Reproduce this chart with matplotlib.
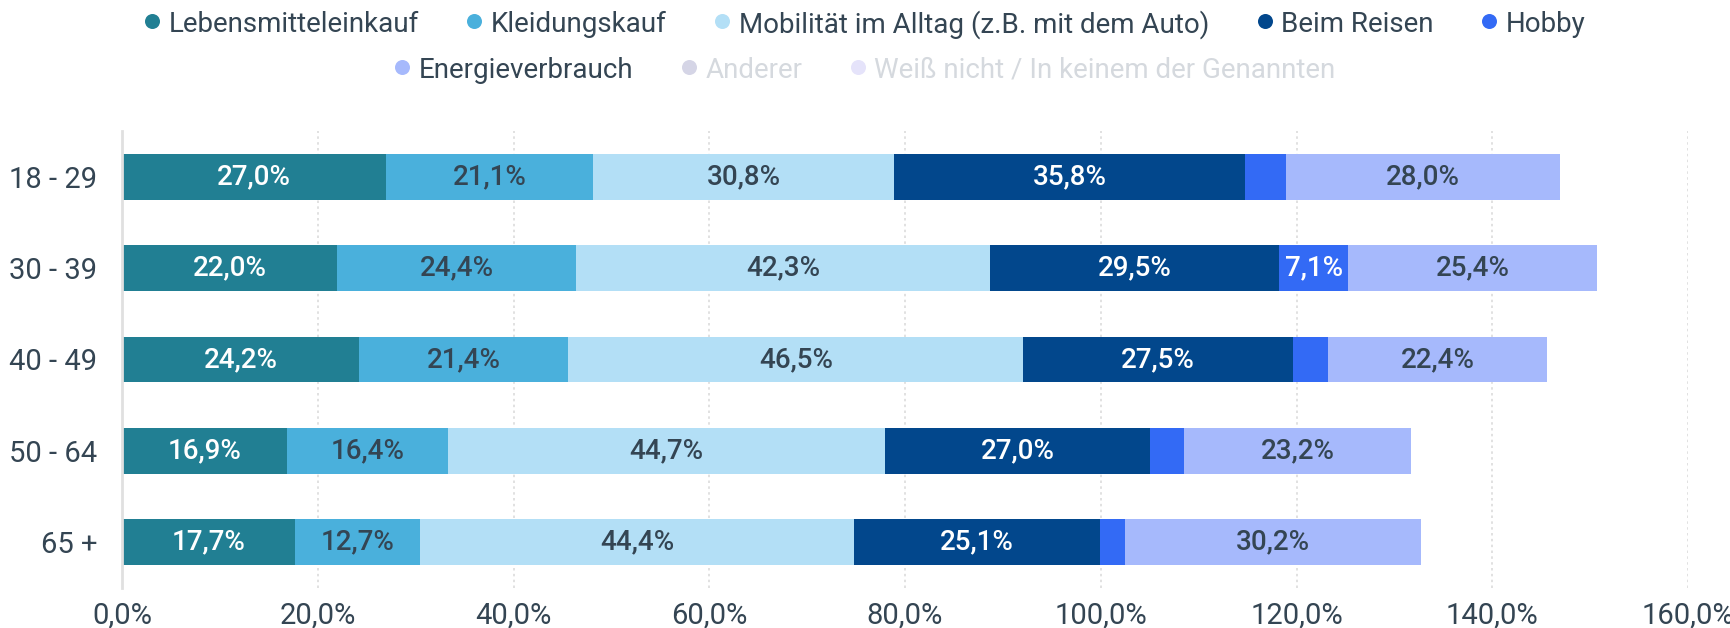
import matplotlib
matplotlib.use("Agg")
import matplotlib.pyplot as plt
from matplotlib.lines import Line2D

plt.rcParams['font.family'] = ['Roboto', 'DejaVu Sans']

# data
age_groups = ["18 - 29", "30 - 39", "40 - 49", "50 - 64", "65 +"]
lebensmittel = [27.0, 22.0, 24.2, 16.9, 17.7]
kleidung = [21.1, 24.4, 21.4, 16.4, 12.7]
mobilitaet = [30.8, 42.3, 46.5, 44.7, 44.4]
reisen = [35.8, 29.5, 27.5, 27.0, 25.1]
hobby = [4.2, 7.1, 3.6, 3.5, 2.6]
energie = [28.0, 25.4, 22.4, 23.2, 30.2]

series_names = ["Lebensmitteleinkauf", "Kleidungskauf",
                "Mobilität im Alltag (z.B. mit dem Auto)", "Beim Reisen",
                "Hobby", "Energieverbrauch"]
hidden_names = ["Anderer", "Weiß nicht / In keinem der Genannten"]

colors = ["#217f93", "#4ab0dc", "#b3dff6", "#02478c", "#336af5", "#a6b9fc"]
hidden_colors = ["#d5d5e6", "#e5e3fa"]
label_colors = ["white", "#344553", "#344553", "white", "white", "#344553"]
text_color = "#344553"
muted_text = "#d5d9de"

W, H = 1730, 628
fig = plt.figure(figsize=(W / 100, H / 100), dpi=100)
ax = fig.add_axes([122 / W, 1 - 588 / H, (1688 - 122) / W, (588 - 131) / H])

all_series = [lebensmittel, kleidung, mobilitaet, reisen, hobby, energie]
ypos = list(range(len(age_groups)))
left = [0.0] * len(age_groups)
for vals, col, lcol in zip(all_series, colors, label_colors):
    ax.barh(ypos, vals, left=left, height=0.5, color=col, zorder=3)
    for y, v, l in zip(ypos, vals, left):
        if v >= 5:
            ax.text(l + v / 2, y, f"{v:.1f}%".replace(".", ","),
                    ha="center", va="center", color=lcol,
                    fontsize=20, fontweight="medium", zorder=4)
    left = [a + b for a, b in zip(left, vals)]

ax.set_xlim(0, 160)
ax.set_ylim(len(age_groups) - 0.5, -0.5)
ax.set_yticks(ypos)
ax.set_yticklabels(age_groups)
ax.set_xticks(range(0, 161, 20))
ax.set_xticklabels([f"{t:.1f}%".replace(".", ",") for t in range(0, 161, 20)])
ax.tick_params(axis="both", length=0, labelsize=21, colors=text_color)
ax.tick_params(axis="y", pad=18)
ax.tick_params(axis="x", pad=10)
for lab in ax.get_xticklabels() + ax.get_yticklabels():
    lab.set_color(text_color)

ax.grid(axis="x", linestyle=(0, (1.5, 2)), color="#dcdcdc", linewidth=1.2, zorder=0)
ax.grid(axis="y", visible=False)
for side in ["top", "right", "bottom"]:
    ax.spines[side].set_visible(False)
ax.spines["left"].set_color("#e0e0e0")
ax.spines["left"].set_linewidth(2)
ax.spines["left"].set_zorder(5)

# legend drawn by hand: two centered rows
renderer = fig.canvas.get_renderer()
rows = [
    (list(zip(series_names[:5], colors[:5], [text_color] * 5)), 21),
    ([(series_names[5], colors[5], text_color)] +
     list(zip(hidden_names, hidden_colors, [muted_text] * 2)), 67),
]
legend_size = 20
marker_d, marker_gap, item_gap = 15, 9, 48
for items, yc in rows:
    widths = []
    for name, _, _ in items:
        t = fig.text(0, 0, name, fontsize=legend_size)
        bb = t.get_window_extent(renderer)
        widths.append(bb.width)
        t.remove()
    total = sum(marker_d + marker_gap + w for w in widths) + item_gap * (len(items) - 1)
    x = W / 2 - total / 2
    for (name, mcol, tcol), w in zip(items, widths):
        fig.add_artist(Line2D([(x + marker_d / 2) / W], [1 - yc / H], marker="o",
                              markersize=marker_d * 0.72, color=mcol,
                              markeredgewidth=0, transform=fig.transFigure))
        fig.text((x + marker_d + marker_gap) / W, 1 - yc / H, name,
                 fontsize=legend_size, color=tcol, va="center_baseline", ha="left")
        x += marker_d + marker_gap + w + item_gap

fig.savefig("out.png", dpi=100)
